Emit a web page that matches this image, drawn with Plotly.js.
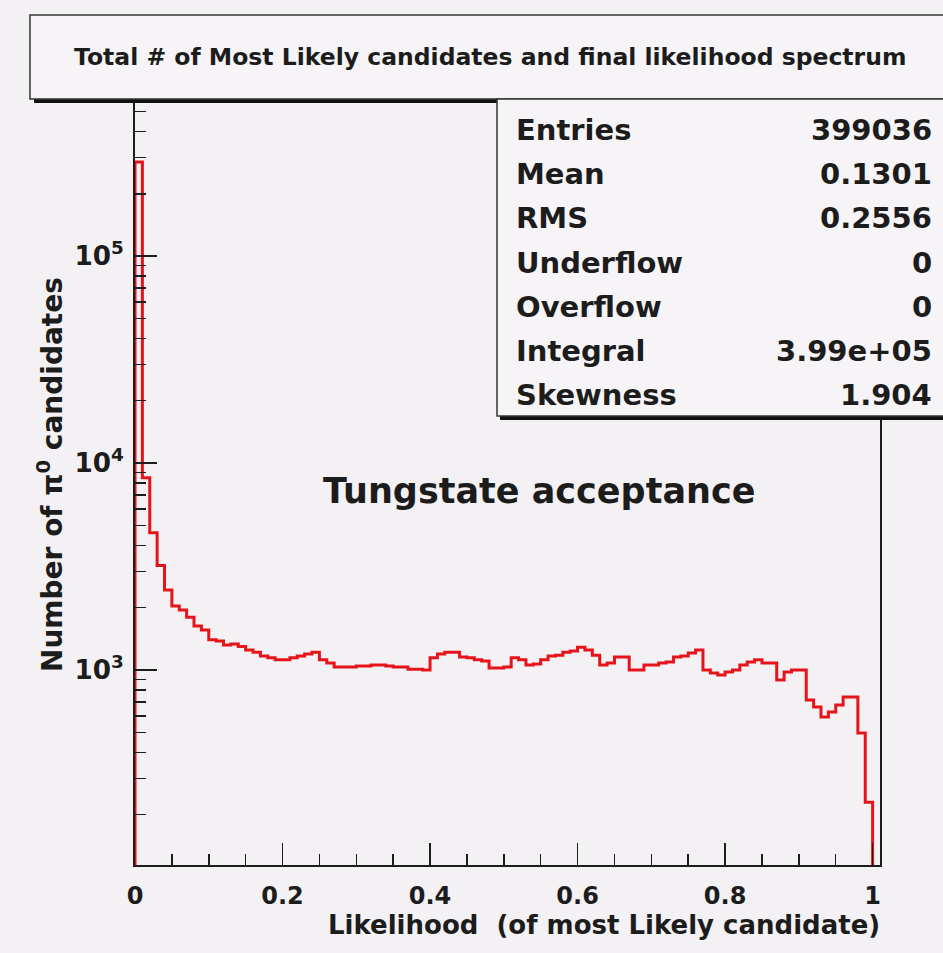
<!DOCTYPE html>
<html>
<head>
<meta charset="utf-8">
<script src="https://cdn.plot.ly/plotly-3.0.1.min.js"></script>
<style>
  html, body { margin: 0; padding: 0; background: #f4f1f4; }
  #plot { width: 943px; height: 953px; }
</style>
</head>
<body>
<div id="plot"></div>
<script>
// Likelihood histogram: 100 bins of width 0.01 between 0 and 1
const binWidth = 0.01;
const counts = [
  285000, 8500, 4600, 3200, 2435, 2040, 1950, 1800, 1630, 1560,
  1400, 1380, 1320, 1335, 1300, 1250, 1220, 1170, 1145, 1120,
  1120, 1145, 1170, 1195, 1220, 1120, 1080, 1035, 1035, 1035,
  1045, 1045, 1057, 1057, 1045, 1035, 1035, 1010, 1010, 1000,
  1145, 1195, 1220, 1220, 1155, 1145, 1120, 1105, 1022, 1022,
  1035, 1145, 1120, 1057, 1069, 1120, 1170, 1180, 1220, 1235,
  1290, 1250, 1180, 1057, 1080, 1155, 1155, 1000, 1000, 1057,
  1057, 1080, 1093, 1155, 1170, 1208, 1250, 1000, 967, 946,
  978, 1000, 1057, 1093, 1120, 1080, 1080, 895, 978, 1000,
  1000, 716, 663, 593, 627, 677, 741, 741, 496, 230
];

// Statistics panel contents
const statLabels = ["Entries", "Mean", "RMS", "Underflow", "Overflow", "Integral", "Skewness"];
const statValues = ["399036", "0.1301", "0.2556", "0", "0", "3.99e+05", "1.904"];

const chartTitle = "Total # of Most Likely candidates and final likelihood spectrum";
const xTitle = "Likelihood \u00a0(of most Likely candidate)";
const yTitle = "Number of \u03c0<sup>0</sup> candidates";
const insetLabel = "Tungstate acceptance";

// Step outline: rise from below the axis at x=0, one step per bin, drop at the last edge
const belowAxis = 1;
const edges = [];
for (let i = 0; i <= counts.length; i++) edges.push(+(i * binWidth).toFixed(4));
const stepX = [0].concat(edges);
const stepY = [belowAxis].concat(counts).concat([belowAxis]);

// Frame geometry in pixels
const W = 943, H = 953;
const L = 135, R = 880, T = 100, B = 865;
const px = x => (x - L) / (R - L);
const py = y => (B - y) / (B - T);

const bg = "#f4f1f4";
const ink = "#1c1c1c";
const boldFont = "DejaVu Sans, Liberation Sans, Arial, sans-serif";

const shapes = [
  // title box with drop shadow
  { type: "rect", xref: "paper", yref: "paper", layer: "above",
    x0: px(34), x1: px(990), y0: py(103), y1: py(19),
    fillcolor: "#111", line: { width: 0 } },
  { type: "rect", xref: "paper", yref: "paper", layer: "above",
    x0: px(30), x1: px(985), y0: py(99), y1: py(15),
    fillcolor: "#f6f4f6", line: { color: "#333", width: 1.5 } },
  // statistics box with drop shadow
  { type: "rect", xref: "paper", yref: "paper", layer: "above",
    x0: px(500), x1: px(990), y0: py(420), y1: py(103),
    fillcolor: "#111", line: { width: 0 } },
  { type: "rect", xref: "paper", yref: "paper", layer: "above",
    x0: px(497), x1: px(985), y0: py(416), y1: py(99),
    fillcolor: "#f6f4f6", line: { color: "#333", width: 1.5 } }
];

const annotations = [
  { text: chartTitle, xref: "paper", yref: "paper", x: px(490), y: py(57),
    xanchor: "center", yanchor: "middle", showarrow: false,
    font: { family: boldFont, size: 23.5, color: ink, weight: 700 } },
  { text: insetLabel, xref: "paper", yref: "paper", x: px(539), y: py(491),
    xanchor: "center", yanchor: "middle", showarrow: false,
    font: { family: boldFont, size: 35, color: ink, weight: 700 } },
  { text: xTitle, xref: "paper", yref: "paper", x: px(882), y: py(925),
    xanchor: "right", yanchor: "middle", showarrow: false,
    font: { family: boldFont, size: 26, color: ink, weight: 700 } },
  { text: yTitle, xref: "paper", yref: "paper", x: px(50), y: py(475),
    xanchor: "center", yanchor: "middle", textangle: -90, showarrow: false,
    font: { family: boldFont, size: 28, color: ink, weight: 700 } }
];

const rowTop = 130, rowStep = 44.2;
statLabels.forEach((lab, i) => {
  const yc = py(rowTop + i * rowStep);
  annotations.push({ text: lab, xref: "paper", yref: "paper", x: px(514), y: yc,
    xanchor: "left", yanchor: "middle", showarrow: false,
    font: { family: boldFont, size: 29, color: ink, weight: 700 } });
  annotations.push({ text: statValues[i], xref: "paper", yref: "paper", x: px(934), y: yc,
    xanchor: "right", yanchor: "middle", showarrow: false,
    font: { family: boldFont, size: 29, color: ink, weight: 700 } });
});

const trace = {
  type: "scatter", mode: "lines",
  x: stepX, y: stepY,
  line: { shape: "hv", color: "#e5141b", width: 3 },
  hoverinfo: "skip", showlegend: false
};

const layout = {
  width: W, height: H,
  margin: { l: L, r: W - R, t: T, b: H - B, pad: 0 },
  paper_bgcolor: bg, plot_bgcolor: bg,
  showlegend: false,
  xaxis: {
    range: [0, 1.01], dtick: 0.2, tick0: 0,
    ticks: "inside", ticklen: 22, tickwidth: 1.5, tickcolor: ink,
    minor: { dtick: 0.05, tick0: 0, ticks: "inside", ticklen: 11, tickwidth: 1.5, tickcolor: ink },
    showgrid: false, zeroline: false,
    showline: true, linecolor: ink, linewidth: 2, mirror: true,
    ticklabelstandoff: 8,
    tickfont: { family: boldFont, size: 24, color: ink, weight: 700 }
  },
  yaxis: {
    type: "log", range: [2.058, 5.754], dtick: 1,
    exponentformat: "power", showexponent: "all",
    ticks: "inside", ticklen: 22, tickwidth: 1.5, tickcolor: ink,
    minor: { dtick: "D1", ticks: "inside", ticklen: 11, tickwidth: 1.5, tickcolor: ink },
    showgrid: false, zeroline: false,
    showline: true, linecolor: ink, linewidth: 2, mirror: true,
    ticklabelstandoff: 5,
    tickfont: { family: boldFont, size: 21, color: ink, weight: 700 }
  },
  shapes: shapes,
  annotations: annotations
};

Plotly.newPlot("plot", [trace], layout, { displayModeBar: false, staticPlot: true });
</script>
</body>
</html>
